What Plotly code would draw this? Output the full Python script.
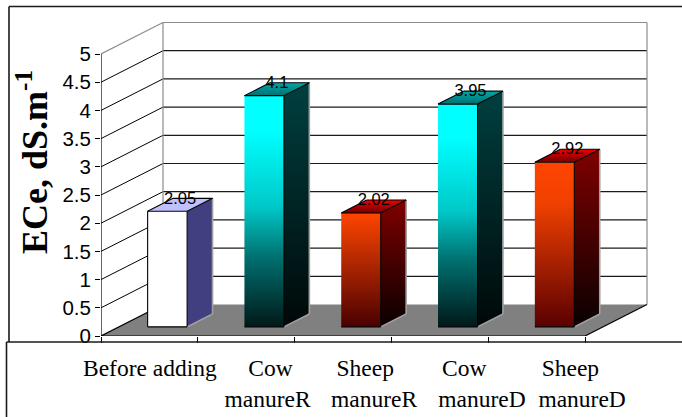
import plotly.graph_objects as go

categories = ["Before adding", "Cow<br>manureR", "Sheep<br>manureR", "Cow<br>manureD", "Sheep<br>manureD"]
values = [2.05, 4.1, 2.02, 3.95, 2.92]
value_labels = ["2.05", "4.1", "2.02", "3.95", "2.92"]
y_ticks = [0, 0.5, 1, 1.5, 2, 2.5, 3, 3.5, 4, 4.5, 5]
y_tick_labels = ["0", "0.5", "1", "1.5", "2", "2.5", "3", "3.5", "4", "4.5", "5"]
axis_title = "ECe, dS.m<sup>-1</sup>"

W, H = 682, 417
X0, Y0 = 101, 336          # pixel of the front-left origin
PX_CAT, PX_VAL = 96.8, 56.4
DX = 62 / PX_CAT           # depth offset, in axis units
DY = 31.5 / PX_VAL
N = len(values)
YMAX = 5

def proj(x, v, z):
    return x + DX * z, v + DY * z

NB = "\u00a0"
label_x = [0.505, 1.72, 2.82, 3.935, 4.97]
tick_text = [
    categories[0],
    NB + categories[1],
    categories[2].replace("<br>", NB * 3 + "<br>"),
    categories[3].replace("<br>", NB * 6 + "<br>"),
    categories[4].replace("<br>", NB * 4 + "<br>"),
]

cyan_front = [[0, "#001818"], [0.3, "#007070"], [0.52, "#00C8C8"], [0.85, "#00FFFF"], [1, "#00FFFF"]]
cyan_side = [[0, "#000808"], [1, "#004040"]]
cyan_top = [[0, "#007070"], [1, "#00A8A8"]]
red_side = [[0, "#0A0000"], [1, "#800000"]]
red_top = [[0, "#700000"], [1, "#F00000"]]
styles = [
    dict(front=[[0, "#FFFFFF"], [1, "#FFFFFF"]], side=[[0, "#404080"], [1, "#404080"]],
         top=[[0, "#C0C0FF"], [1, "#C0C0FF"]], edge=True),
    dict(front=cyan_front, side=cyan_side, top=cyan_top, edge=False),
    dict(front=[[0, "#4A0000"], [1, "#FF4500"]], side=red_side, top=red_top, edge=False),
    dict(front=cyan_front, side=cyan_side, top=cyan_top, edge=False),
    dict(front=[[0, "#5A0000"], [0.75, "#F04000"], [1, "#FF4500"]], side=red_side, top=red_top, edge=False),
]

fig = go.Figure()

def poly(pts, fill=None, grad=None):
    xs = [p[0] for p in pts] + [pts[0][0]]
    ys = [p[1] for p in pts] + [pts[0][1]]
    kw = dict(x=xs, y=ys, mode="lines", fill="toself", hoverinfo="skip", showlegend=False,
              cliponaxis=False, line=dict(color="rgba(0,0,0,0)", width=0))
    if grad is not None:
        kw["fillgradient"] = dict(type="vertical", colorscale=grad)
    else:
        kw["fillcolor"] = fill
    fig.add_trace(go.Scatter(**kw))

def lines(segs, color, width=1):
    xs, ys = [], []
    for a, b in segs:
        xs += [a[0], b[0], None]
        ys += [a[1], b[1], None]
    fig.add_trace(go.Scatter(x=xs, y=ys, mode="lines", hoverinfo="skip", showlegend=False,
                             cliponaxis=False, line=dict(color=color, width=width)))

poly([proj(0, 0, 0), proj(N, 0, 0), proj(N, 0, 1), proj(0, 0, 1)], fill="#808080")
inner = [t for t in y_ticks if 0 < t < YMAX]
lines([(proj(0, t, 0), proj(0, t, 1)) for t in inner], "#000000", 1)
lines([(proj(0, t, 1), proj(N, t, 1)) for t in inner], "#1A1A1A", 1.2)
lines([(proj(0, YMAX, 0), proj(0, YMAX, 1)), (proj(0, YMAX, 1), proj(N, YMAX, 1)),
       (proj(N, YMAX, 1), proj(N, 0, 1)), (proj(0, YMAX, 1), proj(0, 0, 1))], "#8C8C8C", 1.2)
lines([(proj(0, 0, 0), proj(0, YMAX, 0)), (proj(0, 0, 0), proj(N, 0, 0)),
       (proj(N, 0, 0), proj(N, 0, 1)), (proj(0, 0, 0), proj(0, 0, 1))], "#000000", 1.2)

BW = 0.408
Z0, Z1 = 0.29, 0.70
for i, v in enumerate(values):
    s = styles[i]
    xl, xr = i + 0.5 - BW / 2, i + 0.5 + BW / 2
    poly([proj(xr, 0, Z0), proj(xr, 0, Z1), proj(xr, v, Z1), proj(xr, v, Z0)], grad=s["side"])
    poly([proj(xl, v, Z0), proj(xr, v, Z0), proj(xr, v, Z1), proj(xl, v, Z1)], grad=s["top"])
    poly([proj(xl, 0, Z0), proj(xr, 0, Z0), proj(xr, v, Z0), proj(xl, v, Z0)], grad=s["front"])
    lines([(proj(xr, 0, Z0), proj(xr, 0, Z1)), (proj(xr, 0, Z1), proj(xr, v, Z1))], "#A0A0A0", 1.6)
    segs = [(proj(xl, 0, Z0), proj(xr, 0, Z0)), (proj(xr, 0, Z0), proj(xr, v, Z0)),
            (proj(xl, v, Z0), proj(xr, v, Z0)), (proj(xr, v, Z0), proj(xr, v, Z1)),
            (proj(xl, v, Z0), proj(xl, v, Z1)), (proj(xl, v, Z1), proj(xr, v, Z1))]
    if s["edge"]:
        segs.append((proj(xl, 0, Z0), proj(xl, v, Z0)))
    lines(segs, "#000000", 1.1)

LABEL_LIFT = 0.095
lx = [proj(i + 0.5, v, (Z0 + Z1) / 2)[0] for i, v in enumerate(values)]
ly = [proj(i + 0.5, v, (Z0 + Z1) / 2)[1] + LABEL_LIFT for i, v in enumerate(values)]
fig.add_trace(go.Scatter(x=lx, y=ly, mode="text", text=value_labels, textposition="middle center",
                         cliponaxis=False, hoverinfo="skip", showlegend=False,
                         textfont=dict(family="Liberation Sans", size=16.5, color="#000000")))

PW, PH = W - X0, Y0
def px(x): return (x - X0) / PW
def py(y): return (Y0 - y) / PH

frame = dict(type="line", xref="paper", yref="paper", line=dict(color="#1A1A1A", width=1.6))
shapes = [
    dict(frame, x0=px(9), x1=px(W), y0=py(6.5), y1=py(6.5)),
    dict(frame, x0=px(9), x1=px(9), y0=py(6.5), y1=py(342)),
    dict(frame, x0=px(6.5), x1=px(W), y0=py(342), y1=py(342)),
    dict(frame, x0=px(6.5), x1=px(6.5), y0=py(342), y1=py(H)),
]

fig.update_layout(
    width=W, height=H, margin=dict(l=X0, r=0, t=0, b=H - Y0, pad=0),
    paper_bgcolor="#FFFFFF", plot_bgcolor="#FFFFFF", showlegend=False, shapes=shapes,
    xaxis=dict(range=[0, PW / PX_CAT], showgrid=False, zeroline=False, showline=False,
               tickmode="array", tickvals=label_x, ticktext=tick_text,
               ticks="outside", ticklen=11, tickcolor="rgba(0,0,0,0)",
               tickfont=dict(family="Liberation Serif", size=23.5, color="#000000"), tickangle=0,
               minor=dict(tickmode="array", tickvals=list(range(N + 1)), ticks="outside",
                          ticklen=6, tickcolor="#000000", tickwidth=1, showgrid=False)),
    yaxis=dict(range=[0, PH / PX_VAL], showgrid=False, zeroline=False, showline=False,
               tickmode="array", tickvals=y_ticks, ticktext=y_tick_labels,
               ticks="outside", ticklen=5, tickcolor="#000000", tickwidth=1,
               tickfont=dict(family="Liberation Sans", size=20.5, color="#000000")),
    annotations=[dict(text=axis_title, xref="paper", yref="paper", x=px(33), y=py(162),
                      xanchor="center", yanchor="middle", textangle=-90, showarrow=False,
                      font=dict(family="Liberation Serif", size=36, color="#000000", weight="bold"))],
)
fig.write_html("out.html", config=dict(displayModeBar=False),
               post_script="document.body.style.margin='0';document.body.style.overflow='hidden';")
